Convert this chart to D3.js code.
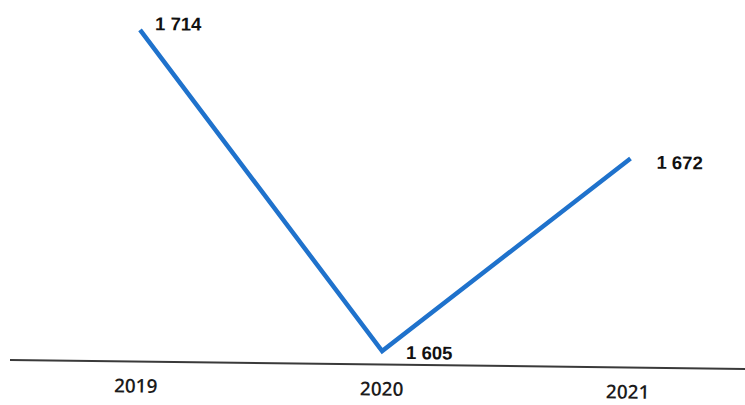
<!DOCTYPE html>
<html>
<head>
<meta charset="utf-8">
<script src="https://cdn.jsdelivr.net/npm/d3@7"></script>
<style>
	html, body { margin: 0; padding: 0; background: #fff; }
	svg { display: block; }
	.year { font-family: "Open Sans", "Liberation Sans", Arial, sans-serif; font-size: 19px; font-weight: 600; fill: #1c1c1c; }
	.value { font-family: "Liberation Sans", Arial, sans-serif; font-size: 18.5px; font-weight: bold; fill: #111; }
</style>
</head>
<body>
<svg id="chart" width="745" height="405"></svg>
<script>
(function(d3) {
	'use strict';

	/** data */
	var years = ['2019', '2020', '2021'];
	var values = [1714, 1605, 1672];
	var valueLabels = ['1 714', '1 605', '1 672'];

	var width = 745, height = 405;
	var axisY = 360;
	// the scan is tilted a little, so the whole chart is turned
	var tilt = 0.7;

	var svg = d3.select('#chart');
	var g = svg.append('g').attr('transform', 'rotate(' + tilt + ',10,' + axisY + ')');

	var x = d3.scalePoint().domain(years).range([136, 628]);
	var y = d3.scaleLinear().domain([1605, 1714]).range([346.5, 28.4]);

	/** axis line */
	g.append('line')
		.attr('x1', 10).attr('x2', width + 20)
		.attr('y1', axisY).attr('y2', axisY)
		.attr('stroke', '#3a3a3a').attr('stroke-width', 2);

	/** year labels */
	g.selectAll('text.year').data(years).enter().append('text')
		.attr('class', 'year')
		.attr('x', function(d) { return x(d); })
		.attr('y', 391)
		.attr('text-anchor', 'middle')
		.text(function(d) { return d; });

	/** line */
	var line = d3.line()
		.x(function(d, i) { return x(years[i]); })
		.y(function(d) { return y(d); });

	g.append('path')
		.datum(values)
		.attr('d', line)
		.attr('fill', 'none')
		.attr('stroke', '#1f72cc')
		.attr('stroke-width', 4.5)
		.attr('stroke-linejoin', 'miter');

	/** value labels, right of each point */
	var labelOffsets = [[15, 0], [24, 7.7], [26, 10]];
	g.selectAll('text.value').data(values).enter().append('text')
		.attr('class', 'value')
		.attr('x', function(d, i) { return x(years[i]) + labelOffsets[i][0]; })
		.attr('y', function(d, i) { return y(d) + labelOffsets[i][1]; })
		.text(function(d, i) { return valueLabels[i]; });
})(d3);
</script>
</body>
</html>
